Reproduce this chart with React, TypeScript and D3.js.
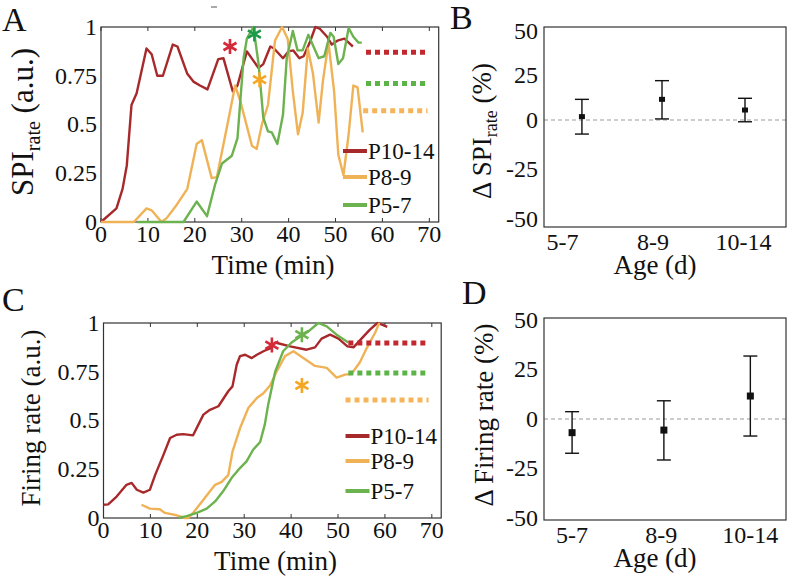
import React from "react"
import * as d3 from "d3"

const serif = "Liberation Serif, Times New Roman, Times, serif"

// A: SPI rate time courses, [min, a.u.]
const spiP10 = [[0,0],[3.3,0.07],[4.6,0.17],[5.5,0.29],[6.5,0.6],[7.6,0.66],[9.7,0.89],[10.8,0.86],[12,0.75],[13.2,0.75],[15.3,0.91],[16.3,0.9],[18.4,0.76],[19.7,0.72],[21.1,0.7],[22.7,0.68],[25,0.835],[26.1,0.84],[28.1,0.67],[29.1,0.7],[31.1,0.875],[32.4,0.83],[33.6,0.79],[34.6,0.81],[36.1,0.9],[36.9,0.89],[38.8,0.84],[40,0.875],[41,0.88],[42.3,0.84],[43.2,0.85],[44.5,0.92],[45.7,1.0],[46.7,0.99],[48.2,0.95],[49.2,0.91],[50.4,0.93],[51.9,0.94],[52.8,0.92],[53.7,0.9]]
const spiP8 = [[0,0],[7,0],[9.7,0.07],[10.8,0.06],[12.9,0],[14,0.02],[16.2,0.09],[18.4,0.17],[20.4,0.4],[21.5,0.42],[23.6,0.225],[24.7,0.23],[27.2,0.53],[28.6,0.7],[29.7,0.62],[32.2,0.39],[33.2,0.375],[34.3,0.5],[35.6,0.6],[37.1,0.93],[38.6,1.0],[39.8,0.94],[40.9,0.67],[42,0.45],[43,0.56],[44.1,0.89],[45.2,0.76],[46.4,0.51],[47.3,0.72],[48.5,0.92],[49.7,0.67],[50.6,0.345],[51.7,0.24],[52.8,0.45],[53.8,0.7],[54.7,0.69],[55.8,0.46]]
const spiP5 = [[7.7,0],[17.6,0],[18.4,0.03],[20.4,0.105],[22.6,0.03],[24.3,0.19],[25.8,0.3],[27.9,0.34],[29.1,0.43],[30.4,0.84],[31.1,0.94],[32.5,1.0],[33.6,0.81],[34.6,0.535],[35.6,0.465],[36.4,0.46],[37.6,0.4],[38.8,0.55],[39.6,0.84],[40.9,0.98],[41.9,0.88],[43,0.88],[44.2,0.96],[45.3,0.9],[46.4,0.84],[47.6,0.85],[48.9,0.97],[49.6,0.95],[50.6,0.81],[51.6,0.84],[52.8,0.995],[53.8,0.95],[54.9,0.92],[55.6,0.92]]
const spiLevels = [0.87, 0.71, 0.57] // P10-14, P5-7, P8-9
const spiLevelSpan = [56.5, 69.6]
const spiStars = [[27.5, 0.9], [32.7, 0.964], [33.8, 0.73]]

// C: firing rate time courses
const frP10 = [[0,0.068],[1,0.07],[2.8,0.11],[4.9,0.17],[6,0.18],[7.1,0.145],[8.5,0.13],[9.9,0.145],[11,0.22],[12.8,0.325],[14.2,0.41],[15.6,0.427],[17,0.43],[19.1,0.424],[21.3,0.53],[22.7,0.555],[24.5,0.573],[26.6,0.65],[27.5,0.675],[28.4,0.786],[29.1,0.83],[30.2,0.837],[31.6,0.82],[32.7,0.837],[34.1,0.855],[35.5,0.87],[36.6,0.9],[39.8,0.88],[43.3,0.863],[45.1,0.875],[46.5,0.92],[48.3,0.94],[50.1,0.92],[52,0.88],[53.3,0.875],[55.4,0.93],[56.8,0.966],[58.4,1.0],[59.5,0.99],[60.5,0.98]]
const frP8 = [[8.1,0.068],[9.9,0.048],[12,0.045],[13.1,0.026],[15.6,0.014],[17.4,0],[18.1,0],[19.1,0.026],[21.3,0.094],[22.7,0.137],[23.8,0.17],[25.2,0.185],[26.6,0.22],[27.5,0.34],[29.1,0.46],[30.9,0.565],[32.7,0.615],[34.1,0.64],[35.5,0.68],[36.9,0.75],[38.7,0.83],[40.5,0.855],[42.6,0.82],[45.1,0.78],[47.6,0.77],[49.7,0.72],[51.5,0.735],[52.9,0.74],[54.7,0.8],[56.1,0.87],[57.9,0.95],[58.8,1.0]]
const frP5 = [[16,0],[17.7,0.01],[19.9,0.026],[22,0.048],[23.8,0.085],[25.5,0.137],[27.3,0.205],[29.1,0.256],[30.5,0.29],[31.9,0.35],[33.4,0.39],[34.4,0.48],[35.1,0.58],[36.6,0.75],[38.3,0.855],[40.1,0.9],[41.9,0.93],[43.7,0.957],[45.8,1.0],[47.6,0.983],[49.7,0.94],[52.2,0.9]]
const frLevels = [0.897, 0.744, 0.605]
const frLevelSpan = [52.2, 69.3]
const frStars = [[35.9, 0.887], [42.3, 0.94], [42.3, 0.68]]

const timeTicks = [0, 10, 20, 30, 40, 50, 60, 70]
const normTicks = [0, 0.25, 0.5, 0.75, 1]
const normLabels = ["0", "0.25", "0.5", "0.75", "1"]

// B / D: change after treatment, mean and error bar (%)
const ages = ["5-7", "8-9", "10-14"]
const pctTicks = [-50, -25, 0, 25, 50]
const spiPos = [1.215, 2.1, 3.017]
const spiMean = [1.9, 11.6, 5.6]
const spiHi = [11.6, 22.1, 12.2]
const spiLo = [-7.1, 0.6, -0.9]
const frPos = [1, 2.03, 3]
const frMean = [-6.9, -5.6, 11.6]
const frHi = [3.7, 9.2, 31.8]
const frLo = [-17.3, -20.7, -8.6]

const groups = ["P10-14", "P8-9", "P5-7"]
const lineColors = ["#a8292b", "#f0b257", "#6cb24e"]
const levelColors = ["#c2282d", "#5cb448", "#f5b45a"]

const Star = ({ cx, cy, r, color }) => {
  const arms = [90, 30, -30].map(a => {
    const t = (a * Math.PI) / 180
    return `M${cx - r * Math.cos(t)},${cy - r * Math.sin(t)}L${cx + r * Math.cos(t)},${cy + r * Math.sin(t)}`
  })
  return <path d={arms.join("")} stroke={color} strokeWidth={2.6} fill="none" />
}

const TimePanel = (props) => {
  const { left, top, series, levels, levelSpan, stars, starColors, legendYs, letter, letterXY, yTitle, titleX } = props
  const h = 195
  const x = d3.scaleLinear().domain([0, 72]).range([left, left + 337.7])
  const y = d3.scaleLinear().domain([0, 1]).range([top + h, top])
  const line = d3.line<number[]>().x(d => x(d[0])).y(d => y(d[1]))
  const bottom = top + h
  return (
    <g fill="#111">
      <text x={letterXY[0]} y={letterXY[1]} fontSize={34}>{letter}</text>
      <rect x={left} y={top} width={337.7} height={h} fill="none" stroke="#333" strokeWidth={1.2} />
      {timeTicks.map(t => (
        <g key={t}>
          <line x1={x(t)} x2={x(t)} y1={bottom} y2={bottom - 4} stroke="#333" />
          <line x1={x(t)} x2={x(t)} y1={top} y2={top + 4} stroke="#333" />
          <text x={x(t)} y={bottom + 20} fontSize={24} textAnchor="middle">{t}</text>
        </g>
      ))}
      {normTicks.map((v, i) => (
        <text key={v} x={left - 4} y={y(v)} dy="0.33em" fontSize={24} textAnchor="end">{normLabels[i]}</text>
      ))}
      <text x={left + 172} y={bottom + 52} fontSize={27} textAnchor="middle">Time (min)</text>
      <g transform={`translate(${titleX},${top + 95}) rotate(-90)`}>{yTitle}</g>
      {series.map((s, i) => (
        <path key={i} d={line(s)} fill="none" stroke={lineColors[i]} strokeWidth={2.4} strokeLinejoin="round" />
      ))}
      {levels.map((v, i) => (
        <line key={i} x1={x(i === 2 ? levelSpan[0] - 0.6 : levelSpan[0])} x2={x(levelSpan[1])} y1={y(v)} y2={y(v)}
          stroke={levelColors[i]} strokeWidth={5} strokeDasharray="5,4" />
      ))}
      {stars.map((s, i) => (
        <Star key={i} cx={x(s[0])} cy={y(s[1])} r={7.5} color={starColors[i]} />
      ))}
      {groups.map((g, i) => (
        <g key={g}>
          <line x1={left + 242} x2={left + 266} y1={legendYs[i]} y2={legendYs[i]} stroke={lineColors[i]} strokeWidth={4} />
          <text x={left + 267} y={legendYs[i]} dy="0.33em" fontSize={23}>{g}</text>
        </g>
      ))}
    </g>
  )
}

const ErrPanel = (props) => {
  const { top, yRange, xDomain, pos, mean, hi, lo, letter, letterXY, yTitle, marker } = props
  const left = 544, right = 786
  const x = d3.scaleLinear().domain(xDomain).range([left, right])
  const y = d3.scaleLinear().domain([-50, 0, 50]).range(yRange)
  const bottom = top + (props.h as number)
  return (
    <g fill="#111">
      <text x={letterXY[0]} y={letterXY[1]} fontSize={34}>{letter}</text>
      <line x1={left} x2={right} y1={y(0)} y2={y(0)} stroke="#999" strokeWidth={1.2} strokeDasharray="4,3" />
      <rect x={left} y={top} width={right - left} height={props.h} fill="none" stroke="#333" strokeWidth={1.2} />
      {pctTicks.map(v => (
        <text key={v} x={left - 6} y={y(v)} dy="0.33em" fontSize={24} textAnchor="end">{v}</text>
      ))}
      {ages.map((a, i) => (
        <text key={a} x={x(i + 1)} y={bottom + 23} fontSize={24} textAnchor="middle">{a}</text>
      ))}
      <text x={655} y={bottom + 47} fontSize={27} textAnchor="middle">Age (d)</text>
      <g transform={`translate(${props.titleX},${props.titleY}) rotate(-90)`}>{yTitle}</g>
      {pos.map((p, i) => (
        <g key={i} stroke="#111" strokeWidth={1.4}>
          <line x1={x(p)} x2={x(p)} y1={y(hi[i])} y2={y(lo[i])} />
          <line x1={x(p) - 7} x2={x(p) + 7} y1={y(hi[i])} y2={y(hi[i])} />
          <line x1={x(p) - 7} x2={x(p) + 7} y1={y(lo[i])} y2={y(lo[i])} />
          <rect x={x(p) - marker[0] / 2} y={y(mean[i]) - marker[1] / 2} width={marker[0]} height={marker[1]} fill="#111" stroke="none" />
        </g>
      ))}
    </g>
  )
}

export default function App() {
  const spiTitle = (
    <text textAnchor="middle" fontSize={31}>
      SPI<tspan fontSize={20} dy={7}>rate</tspan><tspan dy={-7}>{" (a.u.)"}</tspan>
    </text>
  )
  const frTitle = <text textAnchor="middle" fontSize={27}>Firing rate (a.u.)</text>
  const dSpiTitle = (
    <text textAnchor="middle" fontSize={27}>
      {"Δ SPI"}<tspan fontSize={18} dy={6}>rate</tspan><tspan dy={-6}>{" (%)"}</tspan>
    </text>
  )
  const dFrTitle = <text textAnchor="middle" fontSize={27}>{"Δ Firing rate (%)"}</text>
  return (
    <svg width={788} height={580} style={{ position: "absolute", left: 0, top: 0, background: "#fff", fontFamily: serif }}>
      <line x1={211} x2={217} y1={7} y2={7} stroke="#555" strokeWidth={1} />
      <TimePanel left={101} top={27} series={[spiP10, spiP8, spiP5]} levels={spiLevels} levelSpan={spiLevelSpan}
        stars={spiStars} starColors={["#d42a3a", "#1e9b4a", "#f5a623"]} legendYs={[151, 177, 205]}
        letter="A" letterXY={[2, 31]} yTitle={spiTitle} titleX={33} />
      <TimePanel left={103.5} top={323} series={[frP10, frP8, frP5]} levels={frLevels} levelSpan={frLevelSpan}
        stars={frStars} starColors={["#d42a3a", "#6cb24e", "#f5a623"]} legendYs={[436, 461, 491]}
        letter="C" letterXY={[2, 311]} yTitle={frTitle} titleX={40} />
      <ErrPanel top={27} h={200} yRange={[219, 120, 31]} xDomain={[0.796, 3.47]} pos={spiPos} mean={spiMean}
        hi={spiHi} lo={spiLo} letter="B" letterXY={[450, 29]} yTitle={dSpiTitle} titleX={491} titleY={131} marker={[6, 5]} />
      <ErrPanel top={318} h={202} yRange={[518, 419, 320]} xDomain={[0.685, 3.4]} pos={frPos} mean={frMean}
        hi={frHi} lo={frLo} letter="D" letterXY={[462, 304]} yTitle={dFrTitle} titleX={493} titleY={415} marker={[7, 7]} />
    </svg>
  )
}
